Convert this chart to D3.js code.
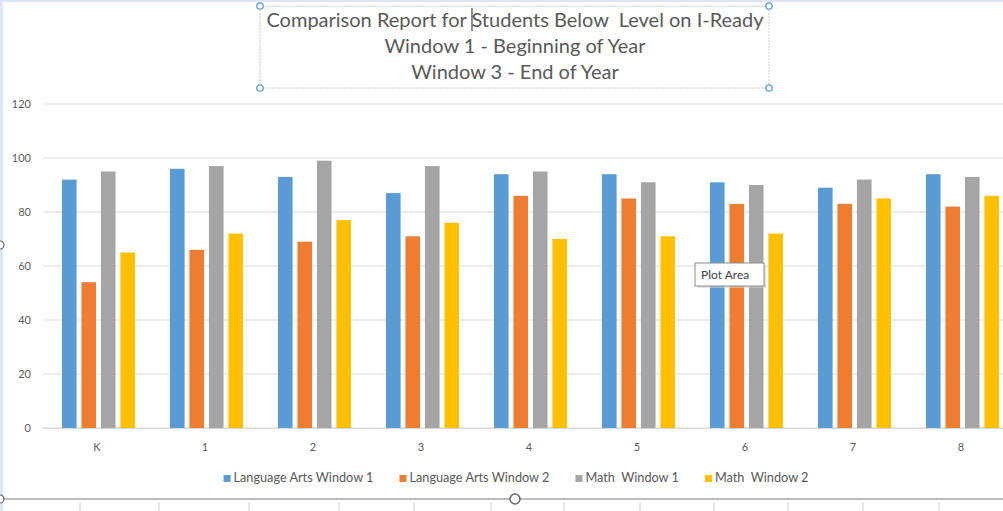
<!DOCTYPE html>
<html><head><meta charset="utf-8">
<script src="https://cdn.jsdelivr.net/npm/d3@7"></script>
<style>html,body{margin:0;padding:0;background:#fff;overflow:hidden}</style>
</head><body>
<svg id="c" width="1003" height="511"></svg>
<script>
const categories = ["K","1","2","3","4","5","6","7","8"];
const seriesNames = ["Language Arts Window 1","Language Arts Window 2","Math  Window 1","Math  Window 2"];
const laWindow1 = [92,96,93,87,94,94,91,89,94];
const laWindow2 = [54,66,69,71,86,85,83,83,82];
const mathWindow1 = [95,97,99,97,95,91,90,92,93];
const mathWindow2 = [65,72,77,76,70,71,72,85,86];
const yTicks = [0,20,40,60,80,100,120];
const titleLines = ["Comparison Report for Students Below  Level on I-Ready","Window 1 - Beginning of Year","Window 3 - End of Year"];
const colors = ["#5b9bd5","#ed7d31","#a5a5a5","#ffc000"];

const seriesValues = [laWindow1, laWindow2, mathWindow1, mathWindow2];
const svg = d3.select("#c");
const font = "Lato, 'Open Sans', sans-serif";

// window chrome
svg.append("rect").attr("x",0).attr("y",0).attr("width",1003).attr("height",2).attr("fill","#dce6f4");
svg.append("rect").attr("x",0).attr("y",0).attr("width",3).attr("height",511).attr("fill","#dce6f4");

const x0 = d3.scaleBand().domain(categories).range([43,1015]).paddingInner(0).paddingOuter(0);
const groupPad = 19;
const x1 = d3.scaleBand().domain(d3.range(4)).range([groupPad, x0.bandwidth()-16]).paddingInner(0.25);
const y = d3.scaleLinear().domain([0,120]).range([428,104]);

// gridlines
svg.append("g").selectAll("line").data(yTicks).join("line")
  .attr("x1",43).attr("x2",1003).attr("y1",d=>y(d)).attr("y2",d=>y(d))
  .attr("stroke","#d9d9d9").attr("stroke-width",1);

// y axis labels
const yAxis = d3.axisLeft(y).tickValues(yTicks).tickSize(0).tickPadding(0);
const gy = svg.append("g").attr("transform","translate(31,0)").call(yAxis);
gy.select(".domain").remove();
gy.selectAll("text").attr("font-family",font).attr("font-size",11).attr("fill","#595959");

// bars
const groups = svg.append("g").selectAll("g").data(categories).join("g")
  .attr("transform",d=>`translate(${x0(d)},0)`);
groups.selectAll("rect").data((d,i)=>seriesValues.map((s,k)=>({k, v:s[i]}))).join("rect")
  .attr("x",d=>x1(d.k)).attr("width",x1.bandwidth())
  .attr("y",d=>y(d.v)).attr("height",d=>y(0)-y(d.v))
  .attr("fill",d=>colors[d.k]);

// x axis
const xAxis = d3.axisBottom(x0).tickSize(0).tickPadding(0);
const gx = svg.append("g").attr("transform","translate(0,428)").call(xAxis);
gx.select(".domain").attr("stroke","#d9d9d9").attr("d","M43,0.5H1003");
gx.selectAll("text").attr("font-family",font).attr("font-size",11).attr("fill","#595959").attr("dy","2.05em");

// title box
const tb = svg.append("g");
tb.append("rect").attr("x",260).attr("y",6).attr("width",509).attr("height",82)
  .attr("fill","none").attr("stroke","#c8c8c8").attr("stroke-width",1).attr("stroke-dasharray","2,1");
const tt0 = tb.selectAll("text").data(titleLines).join("text")
  .attr("x",515).attr("y",(d,i)=>27+i*26).attr("text-anchor","middle")
  .attr("font-family","Lato, sans-serif").attr("font-size",20).attr("fill","#595959")
  .style("white-space","pre").text(d=>d);
const firstNode = tt0.nodes()[0];
const idx = titleLines[0].indexOf("Students");
const bbox = firstNode.getBBox();
const cursorX = bbox.x + firstNode.getSubStringLength(0, idx) + 0.5;
tb.append("line").attr("x1",cursorX).attr("x2",cursorX).attr("y1",8).attr("y2",31).attr("stroke","#222").attr("stroke-width",1);
[[260,6],[769,6],[260,88],[769,88]].forEach(p=>{
  tb.append("circle").attr("cx",p[0]).attr("cy",p[1]).attr("r",3.2).attr("fill","#fff").attr("stroke","#5b9bd5").attr("stroke-width",1.3);
});

// legend
const leg = svg.append("g");
const items = leg.selectAll("g").data(seriesNames).join("g");
items.append("rect").attr("width",7).attr("height",7).attr("y",-7).attr("fill",(d,i)=>colors[i]);
items.append("text").attr("x",10).attr("font-family",font).attr("font-size",12.7).attr("fill","#595959")
  .style("white-space","pre").text(d=>d);
let widths = [];
items.each(function(){ widths.push(10 + d3.select(this).select("text").node().getComputedTextLength()); });
const gap = 26;
const total = d3.sum(widths) + gap*(widths.length-1);
let cx = 516 - total/2;
items.each(function(d,i){ d3.select(this).attr("transform",`translate(${cx},482)`); cx += widths[i]+gap; });

// tooltip
const tt = svg.append("g");
tt.append("rect").attr("x",697).attr("y",265).attr("width",69).attr("height",23).attr("fill","#cfcfcf").attr("opacity",0.6);
tt.append("rect").attr("x",695).attr("y",263).attr("width",69).attr("height",23).attr("fill","#fff").attr("stroke","#8c8c8c").attr("stroke-width",1);
tt.append("text").attr("x",701).attr("y",279).attr("font-family",font).attr("font-size",12).attr("fill","#404040").text("Plot Area");

// bottom ruler / handles
const rl = svg.append("g");
rl.append("line").attr("x1",0).attr("x2",1003).attr("y1",499).attr("y2",499).attr("stroke","#bdbdbd").attr("stroke-width",2);
const rulerTicks = [80,159,249,339,414,491,564,640,714,788,863,939];
rl.selectAll("line.t").data(rulerTicks).join("line").attr("class","t")
  .attr("x1",d=>d).attr("x2",d=>d).attr("y1",502).attr("y2",511).attr("stroke","#d0d0d0").attr("stroke-width",1);
rl.append("circle").attr("cx",515).attr("cy",499).attr("r",5).attr("fill","#fff").attr("stroke","#666").attr("stroke-width",1.5);
rl.append("circle").attr("cx",0).attr("cy",499).attr("r",4).attr("fill","#fff").attr("stroke","#666").attr("stroke-width",1.2);
rl.append("circle").attr("cx",0).attr("cy",245).attr("r",4).attr("fill","#fff").attr("stroke","#666").attr("stroke-width",1.2);
</script>
</body></html>
